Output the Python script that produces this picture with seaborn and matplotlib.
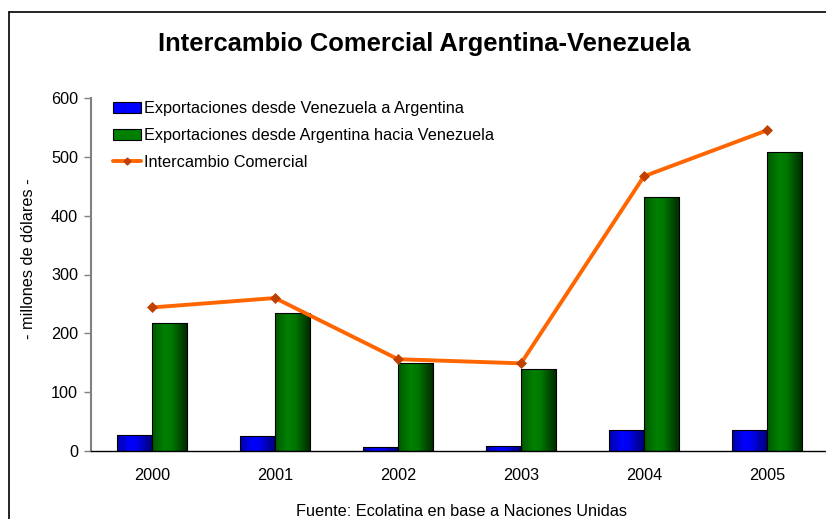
import numpy as np
import pandas as pd
import matplotlib
matplotlib.use("Agg")
import matplotlib.pyplot as plt
from matplotlib.patches import Patch
from matplotlib.lines import Line2D
from matplotlib.colors import LinearSegmentedColormap
import seaborn as sns

years = ["2000", "2001", "2002", "2003", "2004", "2005"]
exp_ven_arg = [27, 26, 7, 9, 35, 36]
exp_arg_ven = [218, 235, 149, 140, 431, 509]
intercambio = [244, 260, 156, 149, 467, 545]
series_names = ["Exportaciones desde Venezuela a Argentina",
                "Exportaciones desde Argentina hacia Venezuela"]
line_name = "Intercambio Comercial"
title = "Intercambio Comercial Argentina-Venezuela"
ylabel = "- millones de dólares -"
source = "Fuente: Ecolatina en base a Naciones Unidas"
yticks = [0, 100, 200, 300, 400, 500, 600]

sns.set_style("white")
plt.rcParams["font.family"] = ["Liberation Sans", "DejaVu Sans"]
plt.rcParams["text.color"] = "black"
plt.rcParams["xtick.color"] = "black"
plt.rcParams["ytick.color"] = "black"
plt.rcParams["axes.labelcolor"] = "black"

FS = 11.7

df = pd.DataFrame({
    "year": years * 2,
    "value": exp_ven_arg + exp_arg_ven,
    "serie": [series_names[0]] * len(years) + [series_names[1]] * len(years),
})

fig = plt.figure(figsize=(8.26, 5.19), dpi=100)
ax = fig.add_axes([90.5 / 826, 1 - 451 / 519, 738 / 826, 353 / 519])

blue = "#0000FF"
green = "#008000"
sns.barplot(data=df, x="year", y="value", hue="serie", order=years,
            hue_order=series_names, palette=[blue, green], width=0.577,
            edgecolor="black", linewidth=0.8, legend=False, ax=ax)

# horizontal gradient shading on bars
cmaps = {
    0: LinearSegmentedColormap.from_list("b", [(0, "#0000A8"), (0.35, "#0000FF"), (0.55, "#0000F0"), (1, "#000070")]),
    1: LinearSegmentedColormap.from_list("g", [(0, "#005A00"), (0.35, "#008000"), (0.55, "#007800"), (1, "#002800")]),
}
grad = np.linspace(0, 1, 64).reshape(1, -1)
for i, cont in enumerate(ax.containers):
    for p in cont.patches:
        x0, w, h = p.get_x(), p.get_width(), p.get_height()
        im = ax.imshow(grad, cmap=cmaps[i], aspect="auto",
                       extent=[x0, x0 + w, 0, h], zorder=p.get_zorder(),
                       interpolation="bilinear")
        im.set_clip_path(p)
        p.set_facecolor("none")
        p.set_zorder(p.get_zorder() + 0.5)

orange = "#FF6600"
sns.pointplot(x=years, y=intercambio, order=years, color=orange,
              marker="D", markersize=3.5, linewidth=2.8, ax=ax,
              markeredgecolor="#C04000", markerfacecolor="#C04000")

ax.set_xlim(-0.5, len(years) - 0.5)
ax.set_ylim(0, 600)
ax.set_yticks(yticks)
ax.set_yticklabels([str(t) for t in yticks], fontsize=FS)
ax.set_xticks(np.arange(len(years)))
ax.set_xticklabels(years, fontsize=FS)
ax.set_xticks(np.arange(len(years) + 1) - 0.5, minor=True)
ax.tick_params(axis="x", which="major", length=0, pad=12)
ax.tick_params(axis="x", which="minor", length=5, direction="out", color="black", width=1)
ax.tick_params(axis="y", length=5, direction="out", color="#808080", width=1, pad=4, left=True)
ax.set_xlabel("")
ax.set_ylabel("")
for s in ["top", "right"]:
    ax.spines[s].set_visible(False)
ax.spines["left"].set_color("#808080")
ax.spines["left"].set_linewidth(1.5)
ax.spines["bottom"].set_color("black")
ax.spines["bottom"].set_linewidth(1)

handles = [
    Patch(facecolor=blue, edgecolor="black", linewidth=0.8),
    Patch(facecolor=green, edgecolor="black", linewidth=0.8),
    Line2D([], [], color=orange, lw=2.8, marker="D", markersize=3.5,
           markerfacecolor="#C04000", markeredgecolor="#C04000"),
]
leg = fig.legend(handles, series_names + [line_name], loc="upper left",
                 bbox_to_anchor=(113 / 826, 1 - 101.5 / 519), frameon=False,
                 fontsize=FS, handlelength=1.75, handleheight=0.65,
                 handletextpad=0.15, labelspacing=0.72, borderaxespad=0,
                 borderpad=0)

fig.text(424 / 826, 1 - 44 / 519, title, ha="center", va="center",
         fontsize=18.4, fontweight="bold")
fig.text(462 / 826, 1 - 511 / 519, source, ha="center", va="center", fontsize=FS)
fig.text(29 / 826, 1 - 259 / 519, ylabel, ha="center", va="center",
         rotation=90, fontsize=FS)

# figure frame (left and top edges visible)
fig.add_artist(Line2D([9 / 826, 9 / 826], [0, 1 - 12 / 519], transform=fig.transFigure, color="black", lw=1.2))
fig.add_artist(Line2D([9 / 826, 1], [1 - 12 / 519, 1 - 12 / 519], transform=fig.transFigure, color="black", lw=1.2))

fig.savefig("out.png", dpi=100)
